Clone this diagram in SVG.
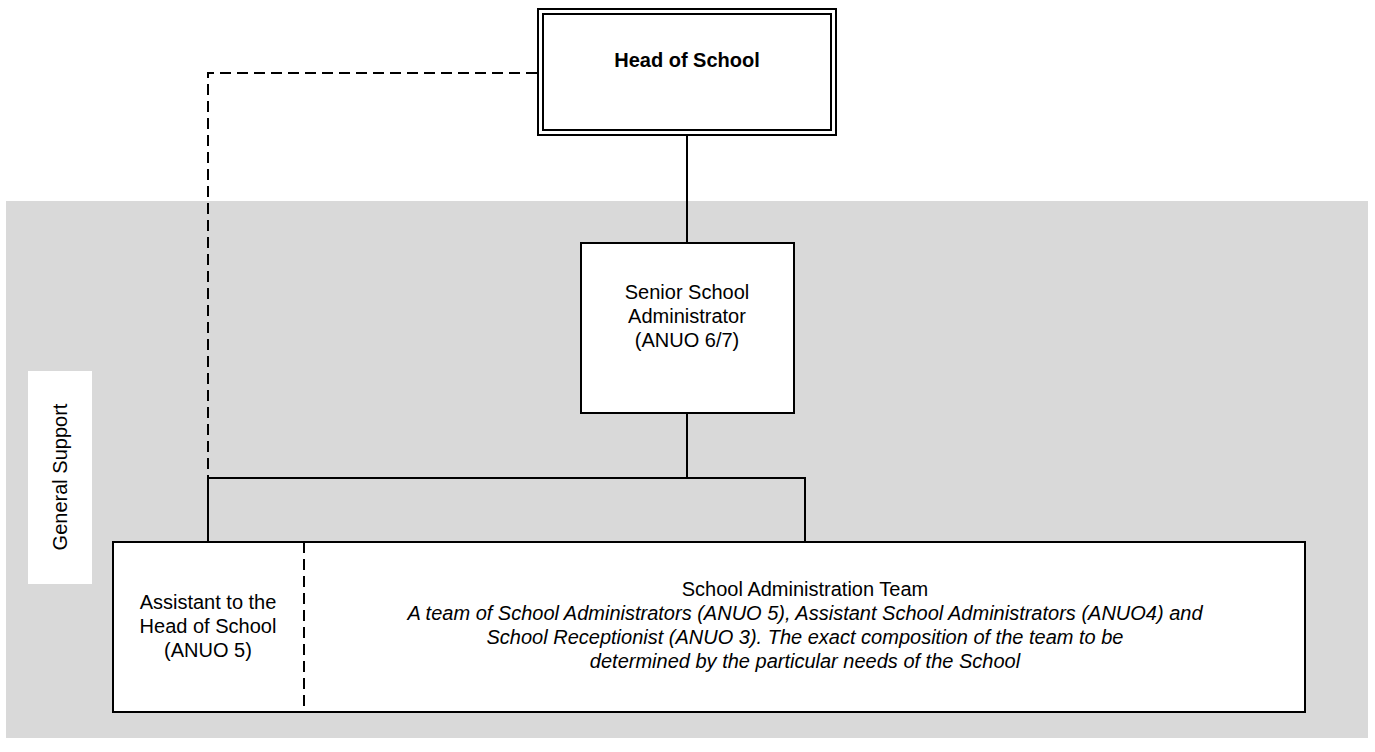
<svg xmlns="http://www.w3.org/2000/svg" width="1375" height="752" viewBox="0 0 1375 752">
  <style>
    .box { fill: #ffffff; stroke: #000000; stroke-width: 2; }
    .line { fill: none; stroke: #000000; stroke-width: 2; }
    .dash { fill: none; stroke: #000000; stroke-width: 2; stroke-dasharray: 11 6; }
    .txt { font-family: "Liberation Sans", Arial, sans-serif; font-size: 20px; fill: #000000; text-anchor: middle; }
    .bold { font-weight: bold; }
    .ital { font-style: italic; }
  </style>

  <!-- shaded band for the support area -->
  <rect id="band" x="6" y="201" width="1362" height="537" fill="#d9d9d9"/>

  <!-- side label -->
  <g id="general-support">
    <rect x="28" y="371" width="64" height="213" fill="#ffffff"/>
    <text class="txt" transform="translate(67 477) rotate(-90)">General Support</text>
  </g>

  <!-- connectors -->
  <g id="connectors">
    <path class="dash" d="M537 73 H208 V542"/>
    <path class="line" d="M687 136 V243"/>
    <path class="line" d="M687 413 V478"/>
    <path class="line" d="M208 542 V478 H805 V542"/>
  </g>

  <!-- head of school (double border) -->
  <g id="head-of-school">
    <rect class="box" x="538" y="9" width="298" height="126"/>
    <rect class="box" x="543" y="14" width="288" height="116"/>
    <text class="txt bold" x="687" y="67">Head of School</text>
  </g>

  <!-- senior administrator -->
  <g id="senior-administrator">
    <rect class="box" x="581" y="243" width="213" height="170"/>
    <text class="txt" x="687" y="299">Senior School</text>
    <text class="txt" x="687" y="323">Administrator</text>
    <text class="txt" x="687" y="347">(ANUO 6/7)</text>
  </g>

  <!-- team box with assistant section -->
  <g id="team">
    <rect class="box" x="113" y="542" width="1192" height="170"/>
    <path class="dash" d="M304 542 V712"/>
  </g>

  <g id="assistant">
    <text class="txt" x="208" y="609">Assistant to the</text>
    <text class="txt" x="208" y="633">Head of School</text>
    <text class="txt" x="208" y="657">(ANUO 5)</text>
  </g>

  <g id="administration-team">
    <text class="txt" x="805" y="596">School Administration Team</text>
    <text class="txt ital" x="805" y="620">A team of School Administrators (ANUO 5), Assistant School Administrators (ANUO4) and</text>
    <text class="txt ital" x="805" y="644">School Receptionist (ANUO 3). The exact composition of the team to be</text>
    <text class="txt ital" x="805" y="668">determined by the particular needs of the School</text>
  </g>
</svg>
